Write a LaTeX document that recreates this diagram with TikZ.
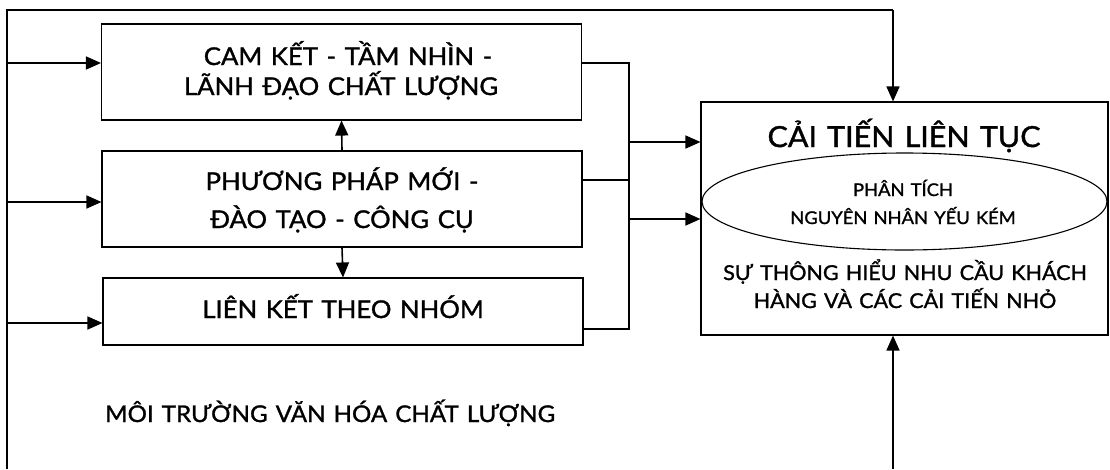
\documentclass[tikz,border=0pt]{standalone}
\usepackage{fontspec}
\setmainfont{Lato}[FakeStretch=1.05,FakeBold=1.3,WordSpace=1.3]
\usetikzlibrary{arrows.meta,shapes.geometric,calc}
\newcommand{\fsz}[1]{\fontsize{#1}{#1}\selectfont}
\begin{document}
\begin{tikzpicture}[x=1pt,y=-1pt,
  boxn/.style={draw=black,line width=1.1pt,rectangle,inner sep=0pt},
  conn/.style={draw=black,line width=1.1pt},
  arr/.style={draw=black,line width=1.6pt,-{Triangle[length=15pt,width=13pt]}},
  bigt/.style={inner sep=0pt,anchor=base,font=\fsz{24.5}},
  envt/.style={inner sep=0pt,anchor=base west,font=\fsz{23}},
  titt/.style={inner sep=0pt,anchor=base,font=\fsz{29}},
  midt/.style={inner sep=0pt,anchor=base,font=\fsz{20.5}},
  smallt/.style={inner sep=0pt,anchor=base,font=\fsz{17.5}}]
\useasboundingbox (0,0) rectangle (1110,469);
\fill[white] (0,0) rectangle (1110,469);
% boxes
\node[boxn,minimum width=480pt,minimum height=96pt] (b1) at (341.5,72) {};
\node[boxn,minimum width=480pt,minimum height=96pt] (b2) at (342,199) {};
\node[boxn,minimum width=480pt,minimum height=67pt] (b3) at (343,311.5) {};
\node[boxn,minimum width=407pt,minimum height=233pt] (rb) at (904.5,218.5) {};
\node[draw=black,line width=1.1pt,ellipse,minimum width=405pt,minimum height=97pt,inner sep=0pt] (el) at (904.5,201.5) {};
% texts
\node[bigt] (t1a) at (348,65) {CAM KẾT - TẦM NHÌN -};
\node[bigt] (t1b) at (341,95) {LÃNH ĐẠO CHẤT LƯỢNG};
\node[bigt] (t2a) at (342,190) {PHƯƠNG PHÁP MỚI -};
\node[bigt] (t2b) at (342,228) {ĐÀO TẠO - CÔNG CỤ};
\node[bigt] (t3) at (343,318) {LIÊN KẾT THEO NHÓM};
\node[titt] (tt) at (904,147) {CẢI TIẾN LIÊN TỤC};
\node[smallt] (e1) at (903,196) {PHÂN TÍCH};
\node[smallt] (e2) at (903,224) {NGUYÊN NHÂN YẾU KÉM};
\node[midt] (s1) at (905,280) {SỰ THÔNG HIỂU NHU CẦU KHÁCH};
\node[midt] (s2) at (905,308) {HÀNG VÀ CÁC CẢI TIẾN NHỎ};
\node[envt] (env) at (105,422) {MÔI TRƯỜNG VĂN HÓA CHẤT LƯỢNG};
% outer frame coordinates
\coordinate (LB) at (7,469);
\coordinate (LT) at (7,10);
\coordinate (TR) at (893,10);
\coordinate (BB) at (893,469);
\coordinate (L1) at (7,63);
\coordinate (L2) at (7,202);
\coordinate (L3) at (7,323);
\coordinate (R1) at (629,63);
\coordinate (R2) at (629,180);
\coordinate (R3) at (629,329);
\coordinate (A1) at (629,142);
\coordinate (A2) at (629,219);
% outer loop
\draw[conn] (LB) -- (LT) -- (TR);
\draw[arr] (TR) -- (TR |- rb.north);
\draw[arr] (BB) -- (BB |- rb.south);
% left inputs
\draw[arr] (L1) -- (L1 -| b1.west);
\draw[arr] (L2) -- (L2 -| b2.west);
\draw[arr] (L3) -- (L3 -| b3.west);
% between boxes
\draw[arr] (b2.north) -- (b1.south);
\draw[arr] (b2.south) -- (b3.north);
% right collector
\draw[conn] (R1 -| b1.east) -- (R1) -- (R3) -- (R3 -| b3.east);
\draw[conn] (R2 -| b2.east) -- (R2);
\draw[arr] (A1) -- (A1 -| rb.west);
\draw[arr] (A2) -- (A2 -| rb.west);
\end{tikzpicture}
\end{document}
